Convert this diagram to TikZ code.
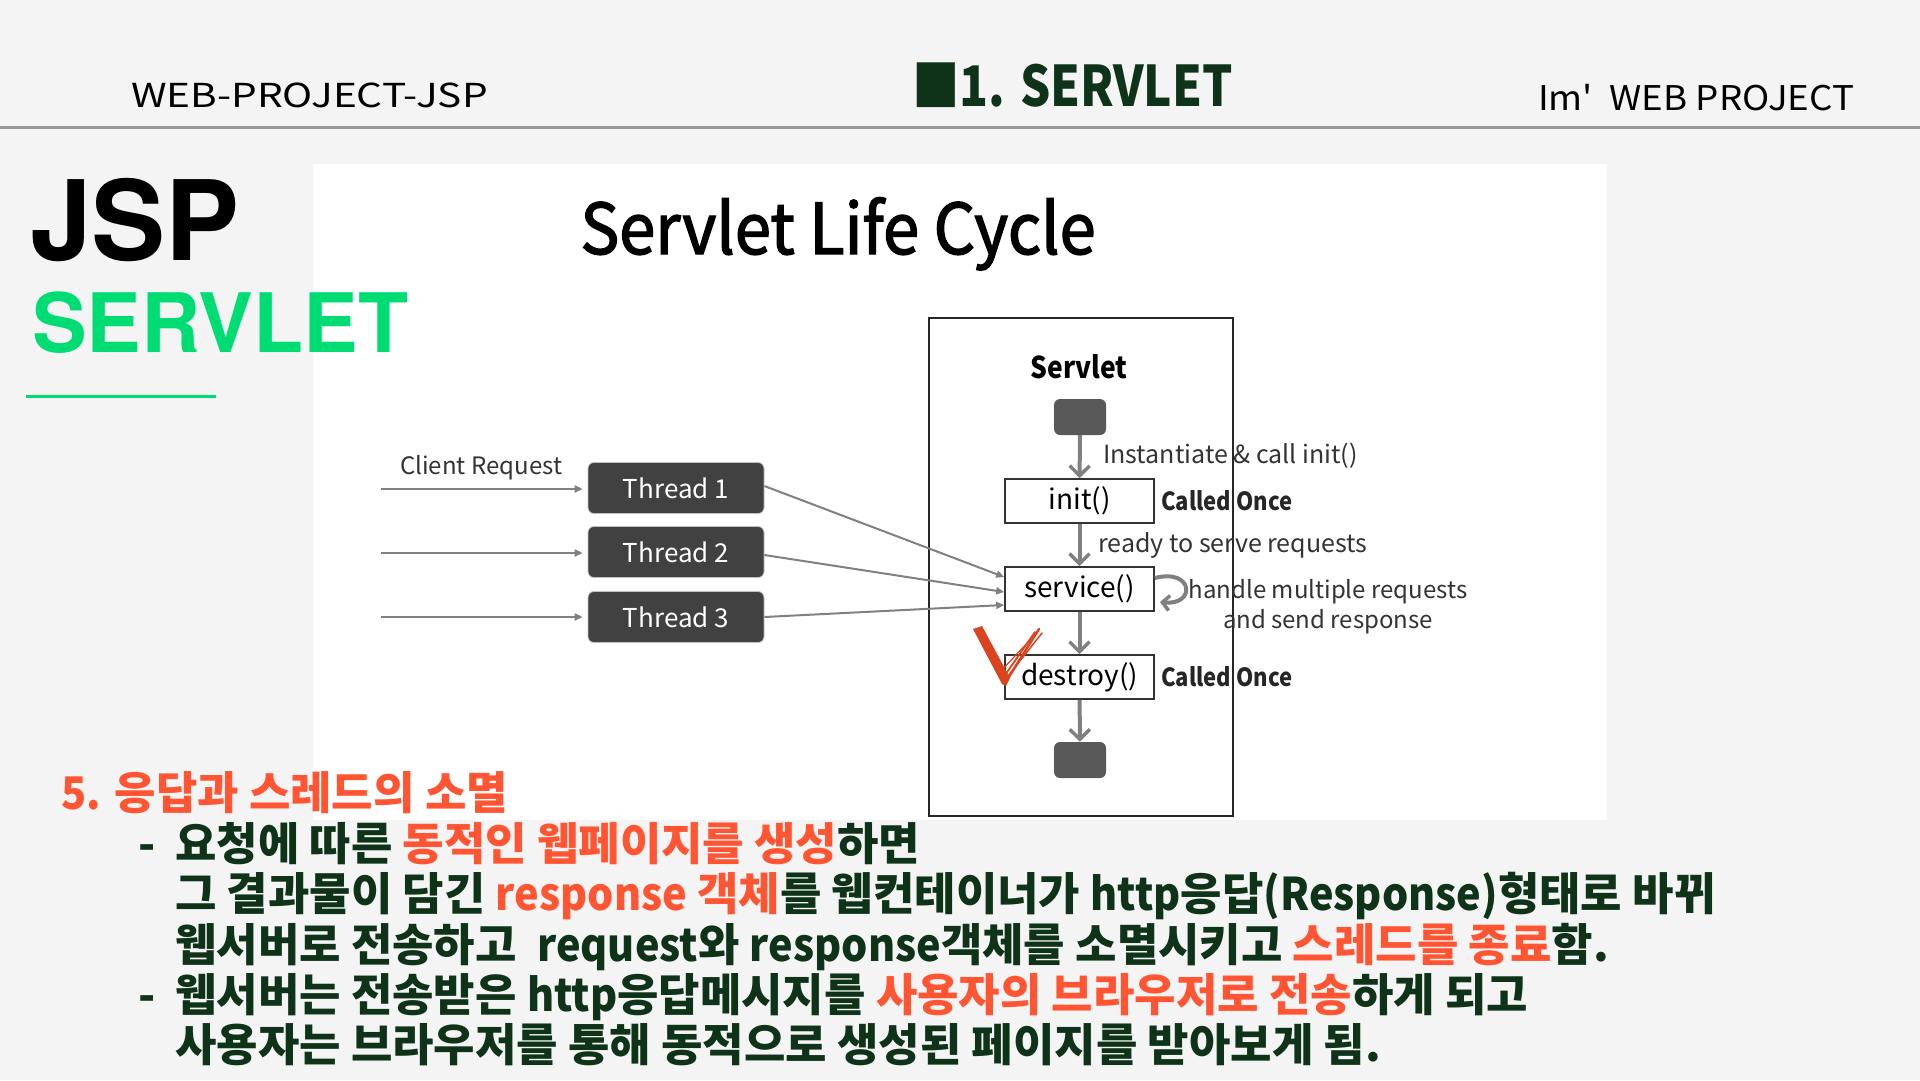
\documentclass[tikz,border=0pt]{standalone}
\usepackage{fontspec}
\usetikzlibrary{arrows.meta}
\newfontfamily\krfont{Noto Sans CJK KR}
\newfontfamily\krlatin[FakeStretch=0.92]{Noto Sans CJK KR}
\newfontfamily\hdleftfont[FakeStretch=1.23]{Noto Sans CJK KR}
\newfontfamily\hdrightfont[FakeStretch=1.08]{Noto Sans CJK KR}
\newfontfamily\ttlfont[FakeStretch=0.85]{Noto Sans CJK KR}
\newfontfamily\lifefont[FakeStretch=0.93,FakeBold=2]{Noto Sans CJK KR}
\newfontfamily\oncefont[FakeStretch=0.88]{Noto Sans CJK KR}
\newfontfamily\bigfont{TeX Gyre Heros}
\definecolor{bg}{HTML}{F4F4F4}
\definecolor{dkgreen}{HTML}{0E3318}
\definecolor{accent}{HTML}{FF5533}
\definecolor{brightgreen}{HTML}{00DC74}
\definecolor{boxgray}{HTML}{414141}
\definecolor{stopgray}{HTML}{595959}
\definecolor{linegray}{HTML}{808080}
\definecolor{checkred}{HTML}{D9441F}
\newcommand{\hl}[1]{\textcolor{accent}{#1}}
\newcommand{\lt}[1]{{\krlatin\bfseries #1}}
\begin{document}
\begin{tikzpicture}[x=1pt,y=-1pt,
  thread/.style={fill=boxgray,draw=gray!50,line width=0.8pt,rounded corners=6pt,
    minimum width=176pt,minimum height=51pt,inner sep=0pt,text=white,
    font=\krfont\fontsize{26}{26}\selectfont},
  stepbox/.style={draw=black!80,line width=1.6pt,fill=white,minimum width=149pt,
    minimum height=44pt,inner sep=0pt,font=\krfont\fontsize{28}{28}\selectfont},
  stopbox/.style={fill=stopgray,rounded corners=6pt,minimum width=52pt,
    minimum height=36pt,inner sep=0pt},
  flowlabel/.style={anchor=west,inner sep=0pt,text=black!80,
    font=\krfont\fontsize{25}{25}\selectfont},
  oncelabel/.style={anchor=west,inner sep=0pt,text=black!85,
    font=\oncefont\bfseries\fontsize{25}{25}\selectfont},
  flowarrow/.style={draw=linegray,line width=4pt,
    -{Straight Barb[length=10pt,width=20pt,line width=3.5pt]}},
  inarrow/.style={draw=linegray,line width=2pt,
    -{Triangle[length=8pt,width=7pt]}},
  korline/.style={anchor=base west,inner sep=0pt,text=dkgreen,
    font=\krfont\bfseries\fontsize{45}{45}\selectfont},
  checkstroke/.style={draw=checkred,line cap=round,line join=round}
]
\useasboundingbox (0,0) rectangle (1920,1080);
\fill[bg] (0,0) rectangle (1920,1080);
\fill[white] (313,164) rectangle (1607,820);

% header
\draw[line width=3pt,draw=gray!85!black!70] (0,127) -- (1920,127);
\node[anchor=base west,inner sep=0pt,font=\hdleftfont\fontsize{33}{33}\selectfont] (hleft) at (131,107) {WEB-PROJECT-JSP};
\node[anchor=base west,inner sep=0pt,text=dkgreen,font=\ttlfont\bfseries\fontsize{56}{56}\selectfont] (hmid) at (912,106) {■1. SERVLET};
\node[anchor=base west,inner sep=0pt,font=\hdrightfont\fontsize{34}{34}\selectfont] (hright) at (1538,110) {Im'\ \ WEB PROJECT};

% section title
\node[anchor=base west,inner sep=0pt,font=\bigfont\bfseries\fontsize{111}{111}\selectfont] (jsp) at (30,260) {JSP};
\node[anchor=base west,inner sep=0pt,text=brightgreen,font=\bigfont\bfseries\fontsize{82}{82}\selectfont] (servlettitle) at (32,352) {SERVLET};
\draw[brightgreen,line width=3pt] (26,396) -- (216,396);

% diagram
\node[anchor=base,inner sep=0pt,font=\lifefont\fontsize{70}{70}\selectfont] (title) at (838,254) {Servlet Life Cycle};
\draw[line width=2pt,draw=black!85] (929,318) rectangle (1233,816);
\node[inner sep=0pt,font=\oncefont\bfseries\fontsize{30}{30}\selectfont] (servletlbl) at (1079,367) {Servlet};

\node[stopbox] (start) at (1080,417) {};
\node[stepbox] (init) at (1079.5,501) {init()};
\node[stepbox] (svc) at (1079.5,589) {service()};
\node[stepbox] (destroy) at (1079.5,677) {destroy()};
\node[stopbox] (end) at (1080,760) {};

\draw[flowarrow] (start) -- (init);
\draw[flowarrow] (init) -- (svc);
\draw[flowarrow] (svc) -- (destroy);
\draw[flowarrow] (destroy) -- (end);

\node[flowlabel] (lblinst) at (1103,456) {Instantiate \& call init()};
\node[flowlabel] (lblready) at (1098,545) {ready to serve requests};
\node[oncelabel] (once1) at (1161,501) {Called Once};
\node[oncelabel] (once2) at (1161,677) {Called Once};
\node[flowlabel,anchor=north,align=center,font=\krfont\fontsize{24}{30}\selectfont] (lblhandle) at (1328,579) {handle multiple requests\\and send response};

\draw[draw=linegray,line width=4pt,-{Straight Barb[length=7pt,width=15pt,line width=3.5pt]}]
  ([yshift=11pt]svc.east) .. controls (1194,568) and (1196,606) .. (1160,602);

% threads
\node[inner sep=0pt,anchor=base west,text=black!80,font=\krfont\fontsize{24}{24}\selectfont] (client) at (400,474) {Client Request};
\node[thread] (t1) at (676,488) {Thread 1};
\node[thread] (t2) at (676,552) {Thread 2};
\node[thread] (t3) at (676,617) {Thread 3};
\coordinate (r1) at (381,489);
\coordinate (r2) at (381,553);
\coordinate (r3) at (381,617);
\draw[inarrow,shorten >=5pt] (r1) -- (r1 -| t1.west);
\draw[inarrow,shorten >=5pt] (r2) -- (r2 -| t2.west);
\draw[inarrow,shorten >=5pt] (r3) -- (r3 -| t3.west);
\draw[inarrow] ([yshift=2pt]t1.east) -- ([yshift=12pt]svc.west);
\draw[inarrow] ([yshift=-3pt]t2.east) -- ([yshift=-3pt]svc.west);
\draw[inarrow] (t3.east) -- ([yshift=-16pt]svc.west);

% hand-drawn check mark
\fill[checkred] (973,629) -- (982,626) -- (1010,678) -- (1006,686) -- (1002,684) -- cycle;
\draw[checkstroke,line width=2.5pt] (980,636) -- (1005,683) -- (1039,629);
\draw[checkstroke,line width=1.8pt] (1003,678) -- (1035,632);
\draw[checkstroke,line width=1.5pt] (1008,676) -- (1042,633);
\draw[checkstroke,line width=1.2pt] (1000,672) -- (1030,640);
\draw[checkstroke,line width=1pt] (985,650) -- (999,676);

% explanation
\node[korline,text=accent] (k1) at (61,809) {\lt{5.} 응답과 스레드의 소멸};
\node[korline] (kd1) at (138,860) {-};
\node[korline] (k2) at (175,860) {요청에 따른 \hl{동적인 웹페이지를 생성}하면};
\node[korline] (k3) at (175,910) {그 결과물이 담긴 \hl{\lt{response} 객체}를 웹컨테이너가 \lt{http}응답\lt{(Response)}형태로 바뀌};
\node[korline] (k4) at (175,961) {웹서버로 전송하고\ \ \lt{request}와 \lt{response}객체를 소멸시키고 \hl{스레드를 종료}함.};
\node[korline] (kd2) at (138,1011) {-};
\node[korline] (k5) at (175,1011) {웹서버는 전송받은 \lt{http}응답메시지를 \hl{사용자의 브라우저로 전송}하게 되고};
\node[korline] (k6) at (175,1061) {사용자는 브라우저를 통해 동적으로 생성된 페이지를 받아보게 됨.};
\end{tikzpicture}
\end{document}
